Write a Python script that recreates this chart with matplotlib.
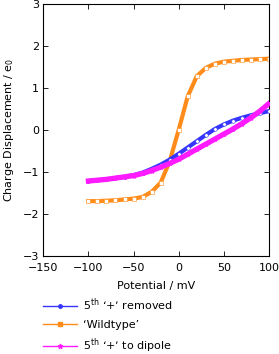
import numpy as np
import matplotlib
matplotlib.use("Agg")
import matplotlib.pyplot as plt
from matplotlib.lines import Line2D

# data (mV, charge displacement in e0)
potential = [-100, -90, -80, -70, -60, -50, -40, -30, -20, -10, 0,
             10, 20, 30, 40, 50, 60, 70, 80, 90, 100]
removed = [-1.22, -1.20, -1.18, -1.15, -1.12, -1.08, -1.02, -0.93, -0.83, -0.71, -0.57,
           -0.42, -0.27, -0.12, 0.02, 0.13, 0.22, 0.29, 0.35, 0.40, 0.45]
wildtype = [-1.70, -1.70, -1.69, -1.68, -1.66, -1.64, -1.60, -1.48, -1.26, -0.75, 0.00,
            0.80, 1.28, 1.48, 1.58, 1.63, 1.65, 1.67, 1.68, 1.69, 1.70]
dipole = [-1.22, -1.20, -1.18, -1.15, -1.12, -1.09, -1.04, -0.97, -0.89, -0.80, -0.70,
          -0.58, -0.46, -0.34, -0.22, -0.10, 0.02, 0.15, 0.29, 0.45, 0.63]

labels = ["5$^{\\rm th}$ \u2018$+$\u2019 removed", "\u2018Wildtype\u2019",
          "5$^{\\rm th}$ \u2018$+$\u2019 to dipole"]
colors = ["#3535ff", "#ff8c1a", "#ff1aff"]

plt.rcParams['font.family'] = ['DejaVu Sans']
plt.rcParams['mathtext.fontset'] = 'dejavusans'

fig = plt.figure(figsize=(2.79, 3.54), dpi=100)
ax = fig.add_axes([0.155, 0.278, 0.809, 0.71])

ax.plot(potential, removed, color=colors[0], lw=3.0, marker='o', ms=2.6,
        mfc='white', mec=colors[0], mew=0.4, zorder=3)
ax.plot(potential, wildtype, color=colors[1], lw=3.0, marker='s', ms=2.4,
        mfc='white', mec=colors[1], mew=0.4, zorder=2)
ax.plot(potential, dipole, color=colors[2], lw=3.8, marker='*', ms=3,
        mfc=colors[2], mec=colors[2], zorder=4)

ax.set_xlim(-150, 100)
ax.set_ylim(-3, 3)
ax.set_xticks([-150, -100, -50, 0, 50, 100])
ax.set_yticks([-3, -2, -1, 0, 1, 2, 3])
ax.tick_params(direction='in', top=True, right=True, length=3.5, width=0.6,
               labelsize=8)
ax.tick_params(axis='x', pad=5)
ax.tick_params(axis='y', pad=3)
for s in ax.spines.values():
    s.set_linewidth(0.8)
ax.set_xlabel("Potential / mV", fontsize=8, labelpad=6)
ax.set_ylabel("Charge Displacement / e$_0$", fontsize=8, labelpad=5)

handles = [Line2D([], [], color=colors[0], lw=1, marker='o', ms=2.5),
           Line2D([], [], color=colors[1], lw=1, marker='s', ms=2.5),
           Line2D([], [], color=colors[2], lw=1, marker='*', ms=3.5)]
fig.legend(handles, labels, loc='upper left', bbox_to_anchor=(0.155, 0.163),
           frameon=False, fontsize=8, handlelength=3.0, handletextpad=0.6,
           labelspacing=0.6, borderpad=0, borderaxespad=0)

fig.savefig("out.png", dpi=100)
